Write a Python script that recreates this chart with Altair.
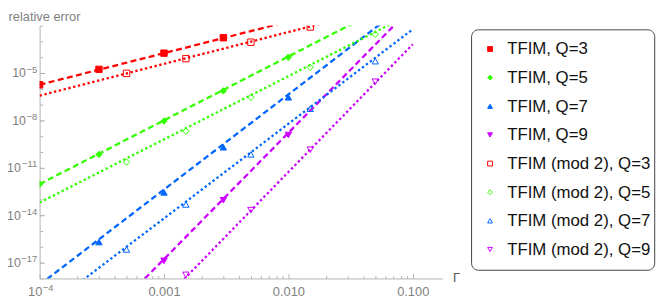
import altair as alt
import pandas as pd

# ---------------- data ----------------
series_names = ["TFIM, Q=3", "TFIM, Q=5", "TFIM, Q=7", "TFIM, Q=9",
                "TFIM (mod 2), Q=3", "TFIM (mod 2), Q=5", "TFIM (mod 2), Q=7", "TFIM (mod 2), Q=9"]
series_colors = ["#FF0000", "#33FF00", "#0066FF", "#CC00FF",
                 "#FF0000", "#33FF00", "#0066FF", "#CC00FF"]
series_fills = ["#FF0000", "#33FF00", "#0066FF", "#CC00FF",
                "transparent", "transparent", "transparent", "transparent"]
series_shapes = ["square", "diamond", "triangle-up", "triangle-down",
                 "square", "diamond", "triangle-up", "triangle-down"]

q3_x = [1e-4, 3e-4, 1e-3, 3e-3]
q3_y = [1.8e-6, 1.7e-5, 1.8e-4, 1.7e-3]
q5_x = [1e-4, 3e-4, 1e-3, 3e-3, 1e-2]
q5_y = [9.3e-13, 7.1e-11, 9.1e-9, 7.4e-7, 1.0e-4]
q7_x = [3e-4, 1e-3, 3e-3, 1e-2]
q7_y = [2.0e-16, 2.8e-13, 2.0e-10, 2.9e-7]
q9_x = [1e-3, 3e-3, 1e-2]
q9_y = [1.3e-17, 8.9e-14, 1.2e-9]

m3_x = [5e-4, 1.5e-3, 5e-3, 1.5e-2]
m3_y = [9.5e-6, 8.1e-5, 8.9e-4, 8.1e-3]
m5_x = [5e-4, 1.5e-3, 5e-3, 1.5e-2, 5e-2]
m5_y = [2.3e-11, 2.1e-9, 2.9e-7, 2.3e-5, 2.8e-3]
m7_x = [5e-4, 1.5e-3, 5e-3, 1.5e-2, 5e-2]
m7_y = [6.8e-17, 4.8e-14, 7.1e-11, 5.5e-8, 5.6e-5]
m9_x = [1.5e-3, 5e-3, 1.5e-2, 5e-2]
m9_y = [1.7e-18, 2.1e-14, 1.4e-10, 2.8e-6]

# fitted power-law lines: values at the two ends x = 1e-4 and x = 0.1
line_x = [1e-4, 1e-1]
q3_line = [1.8e-6, 1.8]
q5_line = [9.3e-13, 1.2]
q7_line = [4.0e-19, 0.46]
q9_line = [1.7e-25, 0.16]
m3_line = [3.7e-7, 0.40]
m5_line = [6.3e-14, 0.063]
m7_line = [6.6e-21, 5.8e-3]
m9_line = [3.7e-28, 6.5e-4]

# axis tick labels (power-of-ten labels are drawn as "10" + raised exponent)
x_major = [1e-4, 1e-3, 1e-2, 1e-1]
x_plain = [1e-3, 1e-2, 1e-1]
x_plain_labels = ["0.001", "0.010", "0.100"]
x_pow = [1e-4]
x_pow_exps = ["−4"]
y_major = [1e-17, 1e-14, 1e-11, 1e-8, 1e-5]
y_exps = ["−17", "−14", "−11", "−8", "−5"]
y_pow_short = [1e-8, 1e-5]            # one-digit exponents
y_pow_long = [1e-17, 1e-14, 1e-11]    # two-digit exponents
x_minor = [k * 10.0 ** e for e in (-4, -3, -2) for k in range(2, 10)]
y_minor = [10.0 ** e for e in range(-18, -1)]

# ---------------- tables ----------------
pts_x = [q3_x, q5_x, q7_x, q9_x, m3_x, m5_x, m7_x, m9_x]
pts_y = [q3_y, q5_y, q7_y, q9_y, m3_y, m5_y, m7_y, m9_y]
lines_y = [q3_line, q5_line, q7_line, q9_line, m3_line, m5_line, m7_line, m9_line]

rows = []
for name, xs, ys in zip(series_names, pts_x, pts_y):
    for xv, yv in zip(xs, ys):
        rows.append({"x": xv, "y": yv, "series": name})
pts = pd.DataFrame(rows)

lrows = []
for i, (name, ys) in enumerate(zip(series_names, lines_y)):
    for xv, yv in zip(line_x, ys):
        lrows.append({"x": xv, "y": yv, "series": name, "kind": "dashed" if i < 4 else "dotted"})
lines = pd.DataFrame(lrows)

legend_df = pd.DataFrame({"series": series_names})
box_df = pd.DataFrame({"box": [0]})

W, H = 408, 256
FONT = "Liberation Sans"
AX = "#b4b4b4"
LAB = "#808080"
MAIN_FS = 12.5
EXP_FS = 9.5

x_scale = alt.Scale(type="log", domain=[1e-4, 0.174], nice=False)
y_scale = alt.Scale(type="log", domain=[1e-18, 1e-2], nice=False)
shape_scale = alt.Scale(domain=series_names, range=series_shapes)
fill_scale = alt.Scale(domain=series_names, range=series_fills)
stroke_scale = alt.Scale(domain=series_names, range=series_colors)
color_scale = alt.Scale(domain=series_names, range=series_colors)


def label_expr(vals, labels):
    expr = "''"
    for v, lab in reversed(list(zip(vals, labels))):
        expr = f"(abs(log(datum.value) - log({v})) < 0.1 ? '{lab}' : {expr})"
    return expr


def plain_axis(orient, values, expr, fs, pad, offset=0):
    return alt.Axis(orient=orient, values=values, labelExpr=expr, ticks=False, tickSize=0,
                    domain=False, grid=False, title=None, labelColor=LAB, labelFontSize=fs,
                    labelPadding=pad, labelOffset=offset, labelFlush=False, labelOverlap=False)


dashed = alt.Chart(lines).transform_filter(alt.datum.kind == "dashed").mark_line(
    clip=True, strokeDash=[6, 3.5], strokeWidth=2.3
).encode(
    x=alt.X("x:Q", scale=x_scale, axis=None),
    y=alt.Y("y:Q", scale=y_scale, axis=None),
    color=alt.Color("series:N", scale=color_scale, legend=None),
)

dotted = alt.Chart(lines).transform_filter(alt.datum.kind == "dotted").mark_line(
    clip=True, strokeDash=[2.4, 2.6], strokeWidth=2.3
).encode(
    x=alt.X("x:Q", scale=x_scale, axis=None),
    y=alt.Y("y:Q", scale=y_scale, axis=None),
    color=alt.Color("series:N", scale=color_scale, legend=None),
)

points = alt.Chart(pts).mark_point(opacity=1, strokeWidth=1, size=42, clip=True).encode(
    x=alt.X("x:Q", scale=x_scale,
            axis=alt.Axis(orient="bottom", values=x_plain, labelExpr=label_expr(x_plain, x_plain_labels),
                          ticks=False, tickSize=0, grid=False, domainColor=AX,
                          labelColor=LAB, labelFontSize=13, labelPadding=7,
                          labelFlush=False, labelOverlap=False,
                          title="Γ", titleX=418, titleY=-1, titleAlign="left",
                          titleBaseline="middle", titleFontSize=13,
                          titleFontWeight="normal", titleColor="#555555")),
    y=alt.Y("y:Q", scale=y_scale,
            axis=alt.Axis(orient="left", values=y_major, labelExpr=label_expr(y_major, y_exps),
                          ticks=False, tickSize=0, grid=False, domainColor=AX,
                          labelColor=LAB, labelFontSize=EXP_FS, labelPadding=3, labelOffset=-4,
                          labelFlush=False, labelOverlap=False,
                          title="relative error", titleAngle=0, titleX=-32, titleY=-9.5,
                          titleAlign="left", titleBaseline="middle", titleFontSize=13,
                          titleFontWeight="normal", titleColor=LAB)),
    shape=alt.Shape("series:N", scale=shape_scale, legend=None),
    fill=alt.Fill("series:N", scale=fill_scale, legend=None),
    stroke=alt.Stroke("series:N", scale=stroke_scale, legend=None),
)

# "10" bases and raised exponents of the power-of-ten tick labels
ten_a = alt.Chart(pts).mark_point(opacity=0, size=1).encode(
    x=alt.X("x:Q", scale=x_scale, axis=plain_axis("bottom", x_pow, "'10'", 13, 7, offset=-5)),
    y=alt.Y("y:Q", scale=y_scale, axis=plain_axis("left", y_pow_short, "'10'", MAIN_FS, 14.3)),
)
ten_b = alt.Chart(pts).mark_point(opacity=0, size=1).encode(
    x=alt.X("x:Q", scale=x_scale, axis=plain_axis("bottom", x_pow, label_expr(x_pow, x_pow_exps),
                                                  EXP_FS, 4, offset=8)),
    y=alt.Y("y:Q", scale=y_scale, axis=plain_axis("left", y_pow_long, "'10'", MAIN_FS, 19.6)),
)


def tick_layer(xv, yv, size):
    return alt.Chart(pts).mark_point(opacity=0, size=1).encode(
        x=alt.X("x:Q", scale=x_scale,
                axis=alt.Axis(orient="top", offset=-H, values=xv, labels=False, domain=False,
                              grid=False, title=None, tickSize=size, tickColor=AX)),
        y=alt.Y("y:Q", scale=y_scale,
                axis=alt.Axis(orient="right", offset=-W, values=yv, labels=False, domain=False,
                              grid=False, title=None, tickSize=size, tickColor=AX)),
    )


# ---------------- legend (box, symbols, labels) ----------------
leg_y = alt.Y("series:N", scale=alt.Scale(type="point", domain=series_names,
                                          range=[23.7, 226.7], padding=0), axis=None)

leg_box = alt.Chart(box_df).mark_rect(
    fill="white", stroke="#444444", strokeWidth=1, cornerRadius=7
).encode(x=alt.value(437.3), x2=alt.value(622.7), y=alt.value(4.3), y2=alt.value(247.7))

leg_sym = alt.Chart(legend_df).mark_point(opacity=1, strokeWidth=1, size=24).encode(
    x=alt.value(456), y=leg_y,
    shape=alt.Shape("series:N", scale=shape_scale, legend=None),
    fill=alt.Fill("series:N", scale=fill_scale, legend=None),
    stroke=alt.Stroke("series:N", scale=stroke_scale, legend=None),
)

leg_txt = alt.Chart(legend_df).mark_text(
    align="left", baseline="middle", fontSize=17, font=FONT, color="#111111", dy=0.5
).encode(x=alt.value(473.3), y=leg_y, text="series:N")

chart = alt.layer(
    tick_layer(x_minor, y_minor, 3),
    tick_layer(x_major, y_major, 5),
    ten_a, ten_b,
    dashed, dotted, points,
    leg_box, leg_sym, leg_txt,
).resolve_scale(y="independent").resolve_axis(x="independent", y="independent").properties(
    width=W, height=H,
    padding={"left": 32, "top": 16, "right": 216, "bottom": 20},
    autosize=alt.AutoSizeParams(type="none"),
).configure_view(stroke=None).configure_axis(
    labelFont=FONT, titleFont=FONT
)

chart.save("out.html", embed_options={"renderer": "svg", "actions": False})
